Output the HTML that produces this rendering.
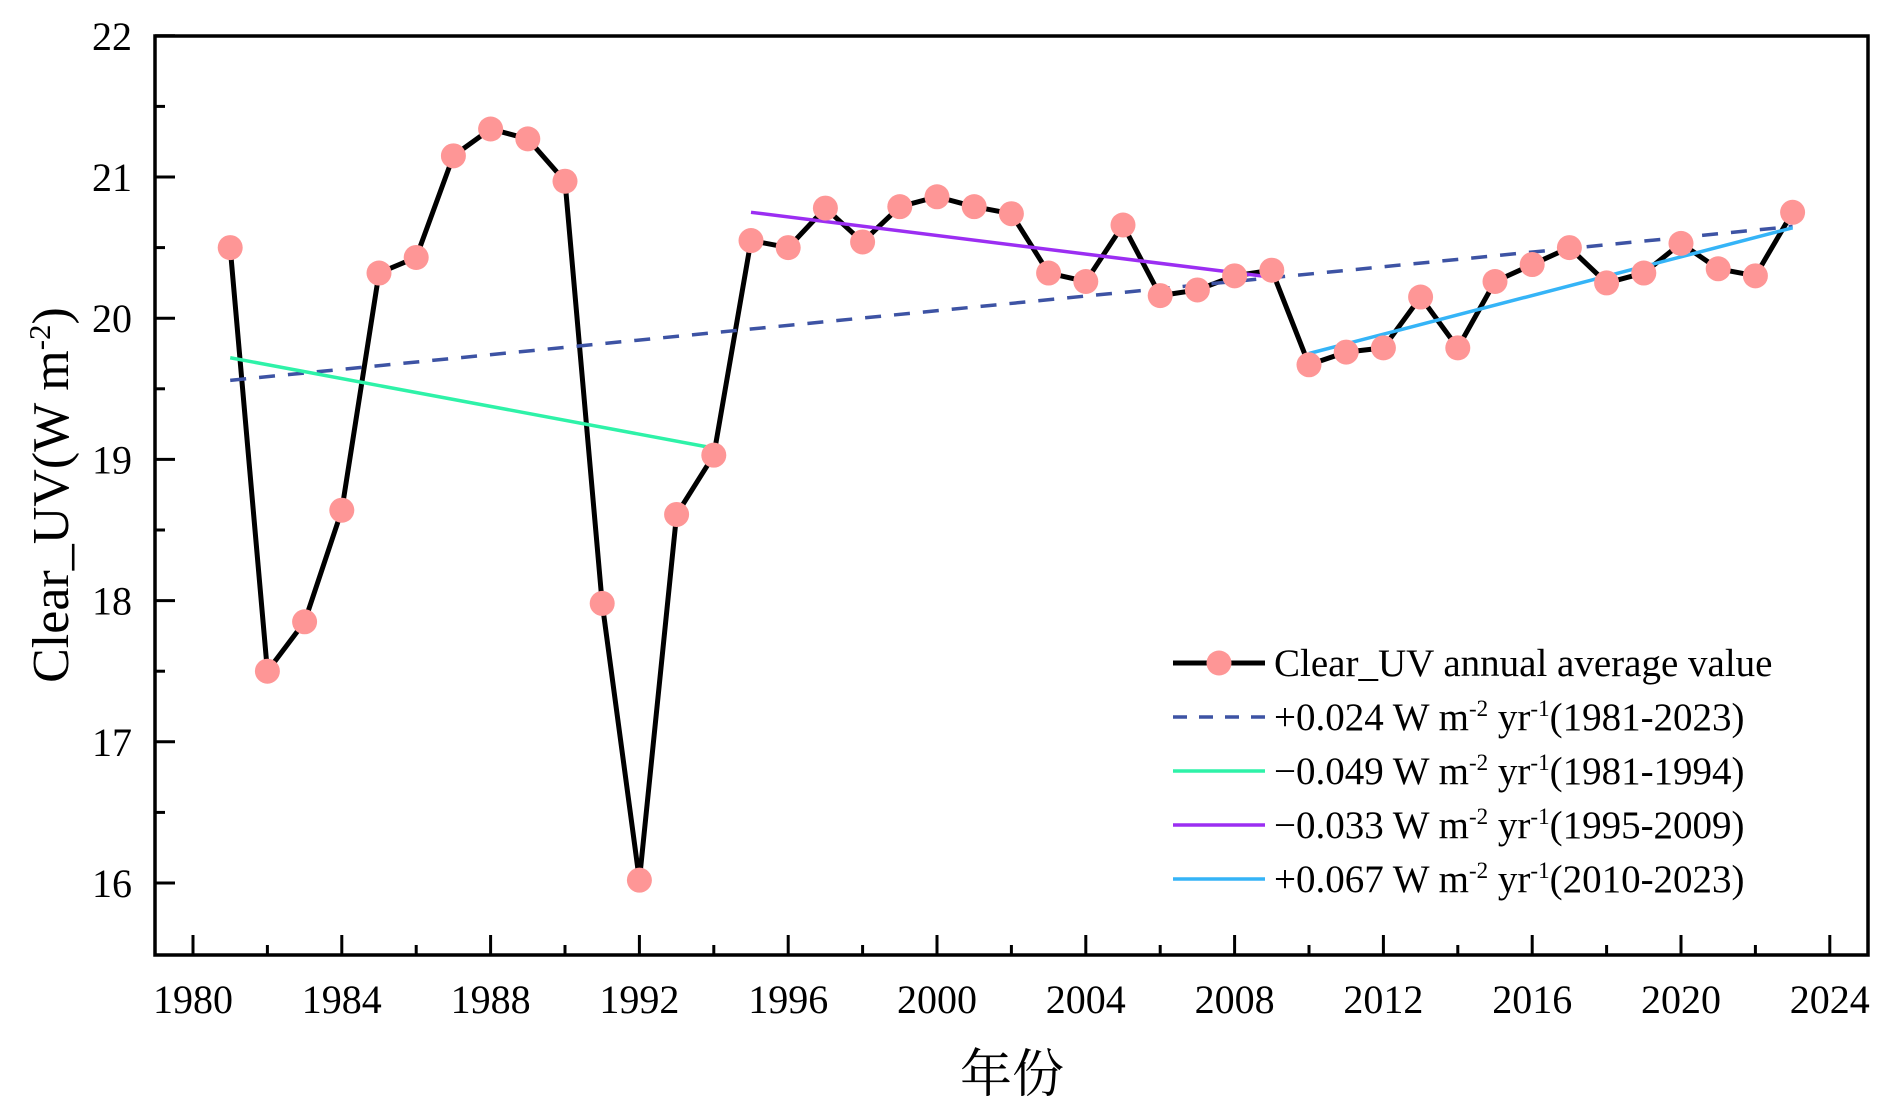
<!DOCTYPE html>
<html><head><meta charset="utf-8">
<style>
html,body{margin:0;padding:0;background:#fff;}
svg{display:block;font-family:"Liberation Serif","Noto Serif CJK SC",serif;}
</style></head>
<body>
<svg id="chart" width="1892" height="1118" viewBox="0 0 1892 1118" xmlns="http://www.w3.org/2000/svg">
<g id="grid"></g>
<g id="marks"></g>
<g id="legend"></g>
<text transform="translate(68,495) rotate(-90)" text-anchor="middle" font-size="52">Clear_UV(W m<tspan dy="-18" font-size="31">-2</tspan><tspan dy="18">)</tspan></text>
<text x="1012" y="1092" text-anchor="middle" font-size="52" font-family="'Noto Serif CJK SC','Noto Sans CJK SC',serif">年份</text>
</svg>
<script>
const years = [1981,1982,1983,1984,1985,1986,1987,1988,1989,1990,1991,1992,1993,1994,1995,1996,1997,1998,1999,2000,2001,2002,2003,2004,2005,2006,2007,2008,2009,2010,2011,2012,2013,2014,2015,2016,2017,2018,2019,2020,2021,2022,2023];
const uvValues = [20.5,17.5,17.85,18.64,20.32,20.43,21.15,21.34,21.27,20.97,17.98,16.02,18.61,19.03,20.55,20.5,20.78,20.54,20.79,20.86,20.79,20.74,20.32,20.26,20.66,20.16,20.2,20.3,20.34,19.67,19.76,19.79,20.15,19.79,20.26,20.38,20.5,20.25,20.32,20.53,20.35,20.3,20.75];
const trendYears = [[1981,2023],[1981,1994],[1995,2009],[2010,2023]];
const trendValues = [[19.56,20.65],[19.72,19.08],[20.75,20.29],[19.75,20.64]];
const trendNames = ["trend-1981-2023","trend-1981-1994","trend-1995-2009","trend-2010-2023"];
const xTicks = [1980,1984,1988,1992,1996,2000,2004,2008,2012,2016,2020,2024];
const yTicks = [16,17,18,19,20,21,22];

const NS="http://www.w3.org/2000/svg";
const L=155,R=1868,T=36,B=955;
function xs(v){return 193+(v-1980)*37.2;}
function ys(v){return 177+(21-v)*141.2;}
function mk(tag,attrs,parent){const e=document.createElementNS(NS,tag);for(const k in attrs)e.setAttribute(k,attrs[k]);parent.appendChild(e);return e;}
const grid=document.getElementById('grid'),marks=document.getElementById('marks'),legend=document.getElementById('legend');

let frame=mk('rect',{x:L,y:T,width:R-L,height:B-T,fill:'none',stroke:'#000','stroke-width':3.5},grid);



for(let yr=1980;yr<=2024;yr+=2){
  const major=(yr%4===0);
  const t=mk('line',{x1:xs(yr),x2:xs(yr),y1:B,y2:B-(major?20:10),stroke:'#000','stroke-width':3},grid);
  
  
}
xTicks.forEach(v=>{
  const t=mk('text',{x:xs(v),y:1013,'text-anchor':'middle','font-size':40},grid);
  t.textContent=v;
  
  
});
for(let v=16;v<=22;v+=0.5){
  const major=Number.isInteger(v);
  const t=mk('line',{x1:L,x2:L+(major?20:10),y1:ys(v),y2:ys(v),stroke:'#000','stroke-width':3},grid);
  
  
}
yTicks.forEach(v=>{
  const t=mk('text',{x:132,y:ys(v)+14,'text-anchor':'end','font-size':40},grid);
  t.textContent=v;
  
  
});

const line=mk('polyline',{points:years.map((y,i)=>xs(y)+','+ys(uvValues[i])).join(' '),fill:'none',stroke:'#000','stroke-width':5,'stroke-linejoin':'round'},marks);



const tStyles=[{stroke:'#3d53a4',dash:'16 13'},{stroke:'#2ef2a8',dash:''},{stroke:'#9b2ef2',dash:''},{stroke:'#35b4f7',dash:''}];
trendYears.forEach((ty,i)=>{
  const l=mk('line',{x1:xs(ty[0]),x2:xs(ty[1]),y1:ys(trendValues[i][0]),y2:ys(trendValues[i][1]),stroke:tStyles[i].stroke,'stroke-width':3.5},marks);
  if(tStyles[i].dash)l.setAttribute('stroke-dasharray',tStyles[i].dash);
  
  
});

years.forEach((y,i)=>{
  const c=mk('circle',{cx:xs(y),cy:ys(uvValues[i]),r:12.5,fill:'#fe9696'},marks);
  
  
});

const legendLabels=[
 ['Clear_UV annual average value'],
 ['+0.024 W m','-2',' yr','-1','(1981-2023)'],
 ['\u22120.049 W m','-2',' yr','-1','(1981-1994)'],
 ['\u22120.033 W m','-2',' yr','-1','(1995-2009)'],
 ['+0.067 W m','-2',' yr','-1','(2010-2023)']];
const legY=[663,717,771,825,879];
legendLabels.forEach((lab,i)=>{
  const y=legY[i];
  const g=mk('g',{},legend);
  
  
  if(i===0){
    mk('line',{x1:1173,x2:1265,y1:y,y2:y,stroke:'#000','stroke-width':5},g);
    mk('circle',{cx:1219,cy:y,r:12.5,fill:'#fe9696'},g);
  }else{
    const s=tStyles[i-1];
    const l=mk('line',{x1:1173,x2:1265,y1:y,y2:y,stroke:s.stroke,'stroke-width':3.5},g);
    if(s.dash)l.setAttribute('stroke-dasharray','14 12');
  }
  const t=mk('text',{x:1274,y:y+13,'font-size':39},g);
  if(lab.length===1){t.textContent=lab[0];}
  else{
    const a=mk('tspan',{},t);a.textContent=lab[0];
    const b=mk('tspan',{dy:-14,'font-size':23},t);b.textContent=lab[1];
    const c=mk('tspan',{dy:14},t);c.textContent=lab[2];
    const d=mk('tspan',{dy:-14,'font-size':23},t);d.textContent=lab[3];
    const e=mk('tspan',{dy:14},t);e.textContent=lab[4];
  }
});
</script>
</body></html>
